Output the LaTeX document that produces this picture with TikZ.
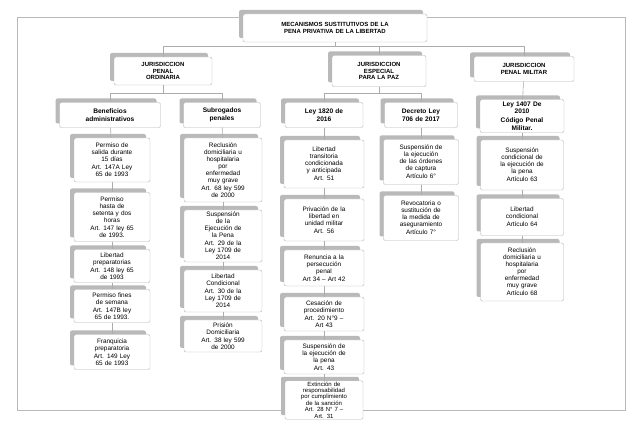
\documentclass[tikz,border=0pt]{standalone}
\usepackage{fontspec}
\setmainfont{Liberation Sans}
\usetikzlibrary{shadows}
\tikzset{
	caja/.style={draw=gray!60, fill=white, rounded corners=2pt, align=center, inner sep=2pt,
		drop shadow={shadow xshift=-4pt, shadow yshift=4pt, fill=gray!55, opacity=1},
		font=\fontsize{6.4}{7}\selectfont},
	jefe/.style={caja, font=\fontsize{6}{6.8}\bfseries\selectfont},
	sub/.style={caja, font=\fontsize{6.6}{7.6}\bfseries\selectfont},
	conn/.style={draw=gray!65, line width=0.6pt}
}
\begin{document}
\begin{tikzpicture}[x=1pt,y=-1pt]
		\useasboundingbox (0,0) rectangle (638,422);
		\draw[gray!55] (17,17) rectangle (625,410);
		% titulo y jurisdicciones
		\node[jefe, text width=180pt, minimum height=28pt] (titulo) at (335,28) {MECANISMOS SUSTITUTIVOS DE LA\\PENA PRIVATIVA DE LA LIBERTAD};
		\node[jefe, text width=94pt, minimum height=28pt] (ordinaria) at (163,71) {JURISDICCION\\PENAL\\ORDINARIA};
		\node[jefe, text width=90pt, minimum height=31pt] (especial) at (379,71) {JURISDICCION\\ESPECIAL\\PARA LA PAZ};
		\node[jefe, text width=96pt, minimum height=25pt] (militar) at (524,69) {JURISDICCION\\PENAL MILITAR};
		\coordinate (bus) at (335,46);
		\draw[conn] (titulo) -- (bus);
		\draw[conn] (bus) -| (ordinaria);
		\draw[conn] (bus) -| (especial);
		\draw[conn] (bus) -| (militar);
		% tercer nivel
		\node[sub, text width=97pt, minimum height=25pt] (beneficios) at (110,115) {Beneficios\\administrativos};
		\node[sub, text width=73pt, minimum height=25pt] (subrogados) at (222,115) {Subrogados\\penales};
		\node[sub, text width=74pt, minimum height=25pt] (ley1820) at (324,115) {Ley 1820 de\\2016};
		\node[sub, text width=69pt, minimum height=25pt] (decreto) at (421,115) {Decreto Ley\\706 de 2017};
		\node[sub, text width=80pt, minimum height=33pt] (ley1407) at (522,116) {Ley 1407 De\\2010\\[1pt]Código Penal\\Militar.};
		\coordinate (bus1) at (163,93);
		\coordinate (bus2) at (379,93);
		\draw[conn] (ordinaria) -- (bus1);
		\draw[conn] (bus1) -| (beneficios);
		\draw[conn] (bus1) -| (subrogados);
		\draw[conn] (especial) -- (bus2);
		\draw[conn] (bus2) -| (ley1820);
		\draw[conn] (bus2) -| (decreto);
		\draw[conn] (militar) -- (ley1407);
		% beneficios administrativos
		\node[caja, text width=72pt, minimum height=44pt] (a1) at (112,160) {Permiso de\\salida durante\\15 días\\[1pt]Art. 147A Ley\\65 de 1993};
		\node[caja, text width=72pt, minimum height=49pt] (a2) at (112,217) {Permiso\\hasta de\\setenta y dos\\horas\\[1pt]Art. 147 ley 65\\de 1993.};
		\node[caja, text width=72pt, minimum height=33pt] (a3) at (112,266) {Libertad\\preparatorias\\[1pt]Art. 148 ley 65\\de 1993};
		\node[caja, text width=72pt, minimum height=33pt] (a4) at (112,306) {Permiso fines\\de semana\\[1pt]Art. 147B ley\\65 de 1993.};
		\node[caja, text width=72pt, minimum height=35pt] (a5) at (112,352) {Franquicia\\preparatoria\\[1pt]Art. 149 Ley\\65 de 1993};
		\draw[conn] (beneficios) -- (a1);
		\draw[conn] (a1) -- (a2);
		\draw[conn] (a2) -- (a3);
		\draw[conn] (a3) -- (a4);
		\draw[conn] (a4) -- (a5);
		% subrogados penales
		\node[caja, text width=74pt, minimum height=64pt] (b1) at (223,170) {Reclusión\\domiciliaria u\\hospitalaria\\por\\enfermedad\\muy grave\\[1pt]Art. 68 ley 599\\de 2000};
		\node[caja, text width=74pt, minimum height=52pt] (b2) at (223,236) {Suspensión\\de la\\Ejecución de\\la Pena\\[1pt]Art. 29 de la\\Ley 1709 de\\2014};
		\node[caja, text width=74pt, minimum height=42pt] (b3) at (223,291) {Libertad\\Condicional\\[1pt]Art. 30 de la\\Ley 1709 de\\2014};
		\node[caja, text width=74pt, minimum height=32pt] (b4) at (223,336) {Prisión\\Domiciliaria\\[1pt]Art. 38 ley 599\\de 2000};
		\draw[conn] (subrogados) -- (b1);
		\draw[conn] (b1) -- (b2);
		\draw[conn] (b2) -- (b3);
		\draw[conn] (b3) -- (b4);
		% ley 1820 de 2016
		\node[caja, text width=76pt, minimum height=48pt] (c1) at (324,164) {Libertad\\transitoria\\condicionada\\y anticipada\\[1pt]Art. 51};
		\node[caja, text width=76pt, minimum height=42pt] (c2) at (324,220) {Privación de la\\libertad en\\unidad militar\\[1pt]Art. 56};
		\node[caja, text width=76pt, minimum height=36pt] (c3) at (324,268) {Renuncia a la\\persecución\\penal\\[1pt]Art 34 -- Art 42};
		\node[caja, text width=76pt, minimum height=34pt] (c4) at (324,314) {Cesación de\\procedimiento\\[1pt]Art. 20 N°9 --\\Art 43};
		\node[caja, text width=76pt, minimum height=34pt] (c5) at (324,357) {Suspensión de\\la ejecución de\\la pena\\[1pt]Art. 43};
		\node[caja, text width=76pt, inner sep=1pt, font=\fontsize{6}{6.3}\selectfont] (c6) at (324,400) {Extinción de\\responsabilidad\\por cumplimiento\\de la sanción\\[0.5pt]Art. 28 N° 7 --\\Art. 31};
		\draw[conn] (ley1820) -- (c1);
		\draw[conn] (c1) -- (c2);
		\draw[conn] (c2) -- (c3);
		\draw[conn] (c3) -- (c4);
		\draw[conn] (c4) -- (c5);
		\draw[conn] (c5) -- (c6);
		% decreto ley 706 de 2017
		\node[caja, text width=71pt, minimum height=45pt] (d1) at (421,162) {Suspensión de\\la ejecución\\de las órdenes\\de captura\\[1pt]Artículo 6°};
		\node[caja, text width=71pt, minimum height=45pt] (d2) at (421,218) {Revocatoria o\\sustitución de\\la medida de\\aseguramiento\\[1pt]Artículo 7°};
		\draw[conn] (decreto) -- (d1);
		\draw[conn] (d1) -- (d2);
		% ley 1407 de 2010
		\node[caja, text width=79pt, minimum height=50pt] (e1) at (522,165) {Suspensión\\condicional de\\la ejecución de\\la pena\\[1pt]Artículo 63};
		\node[caja, text width=79pt, minimum height=37pt] (e2) at (522,217) {Libertad\\condicional\\[1pt]Artículo 64};
		\node[caja, text width=79pt, minimum height=58pt] (e3) at (522,272) {Reclusión\\domiciliaria u\\hospitalaria\\por\\enfermedad\\muy grave\\[1pt]Artículo 68};
		\draw[conn] (ley1407) -- (e1);
		\draw[conn] (e1) -- (e2);
		\draw[conn] (e2) -- (e3);
		\end{tikzpicture}
\end{document}
